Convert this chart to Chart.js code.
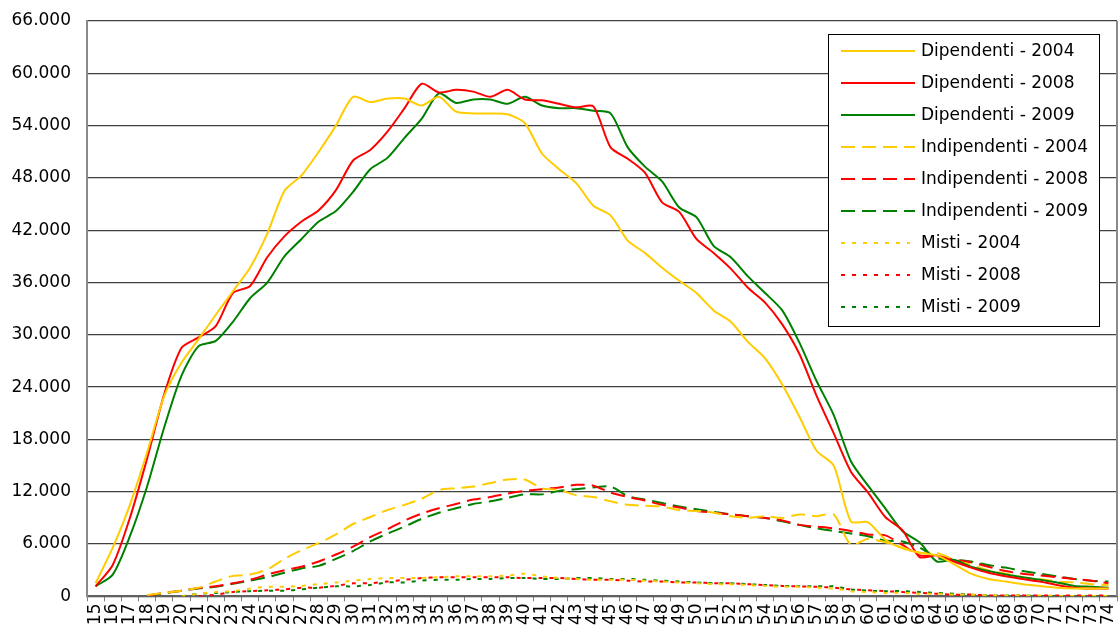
<!DOCTYPE html>
<html>
<head>
    <title>Dipendenti, Indipendenti e Misti per età</title>
    <script src="https://cdn.jsdelivr.net/npm/chart.js"></script>
    <style>
        body { margin: 0; background: #fff; }
        #wrap { width: 1120px; height: 630px; }
    </style>
</head>
<body>
    <div id="wrap"><canvas id="myChart" width="1120" height="630"></canvas></div>

    <script>
        // Età (asse x)
        var ages = ['15','16','17','18','19','20','21','22','23','24',
                    '25','26','27','28','29','30','31','32','33','34',
                    '35','36','37','38','39','40','41','42','43','44',
                    '45','46','47','48','49','50','51','52','53','54',
                    '55','56','57','58','59','60','61','62','63','64',
                    '65','66','67','68','69','70','71','72','73','74'];

        var dipendenti2004 = [1500,5600,10500,16500,23000,26800,29500,32300,35000,37700,
            41600,46500,48300,51000,54000,57300,56700,57100,57100,56300,
            57300,55600,55400,55400,55300,54300,50800,49000,47400,44800,
            43700,40800,39400,37700,36200,34800,32800,31500,29200,27300,
            24300,20600,16700,15000,8600,8500,6500,5500,5000,4700,
            3700,2600,2000,1700,1400,1200,1000,900,900,900];
        var dipendenti2008 = [1150,3600,9000,15800,23200,28500,29700,31000,34800,35600,
            38900,41300,43000,44300,46600,50000,51200,53300,56000,58800,
            57800,58100,57900,57300,58100,57000,56900,56500,56100,56200,
            51500,50200,48600,45200,44100,41000,39400,37600,35400,33700,
            31200,27800,23000,18700,14300,11900,9100,7600,4500,4700,
            4000,3300,2700,2300,2000,1700,1300,1000,900,900];
        var dipendenti2009 = [1150,2500,6900,12600,19400,25300,28700,29300,31500,34200,
            36000,39000,41000,43000,44200,46400,49000,50300,52600,54800,
            57700,56600,57000,57000,56500,57300,56300,56000,56000,55700,
            55400,51500,49300,47600,44600,43500,40200,38900,36700,34800,
            32800,29100,24700,20800,15500,12700,10100,7500,6200,4000,
            4200,3400,2900,2500,2200,1900,1600,1200,1100,1000];

        var indipendenti2004 = [null,null,null,150,400,650,1000,1700,2350,2500,
            3100,4300,5300,6100,7100,8300,9100,9900,10500,11200,
            12200,12400,12600,13000,13400,13400,12400,12200,11600,11400,
            10900,10500,10400,10300,9900,9800,9600,9200,9000,9200,
            9000,9400,9200,9400,5900,6600,6200,5600,5000,5000,
            4200,3600,3000,2600,2200,2000,1700,1600,1400,1300];
        var indipendenti2008 = [null,null,null,100,400,650,950,1150,1500,1900,
            2500,3000,3400,4000,4800,5700,6800,7700,8700,9500,
            10100,10600,11100,11400,11800,12100,12300,12500,12800,12700,
            11900,11400,11000,10500,10200,9800,9600,9400,9200,9000,
            8700,8200,8000,7800,7500,7100,7000,5900,4700,4600,
            4200,3900,3400,2900,2600,2400,2200,2000,1800,1500];
        var indipendenti2009 = [null,null,null,100,350,650,900,1100,1450,1800,
            2200,2700,3200,3500,4300,5200,6300,7200,8000,8900,
            9600,10100,10600,10900,11300,11700,11700,12100,12300,12500,
            12600,11500,11100,10700,10300,10000,9700,9400,9200,9000,
            8600,8200,7800,7500,7200,6900,6400,6300,5600,4400,
            4200,4000,3600,3300,2900,2600,2300,2000,1800,1700];

        var misti2004 = [null,null,null,null,null,0,300,500,600,900,
            1100,1100,1200,1400,1600,1800,2000,2100,2100,2100,
            2200,2300,2300,2300,2400,2600,2300,2100,2000,1900,
            1900,1900,1800,1700,1600,1500,1400,1400,1300,1200,
            1100,1100,1000,900,600,500,400,400,300,300,
            200,200,100,100,100,100,50,50,50,50];
        var misti2008 = [null,null,null,null,null,null,0,200,500,600,
            700,800,1000,1000,1200,1500,1500,1700,1900,2100,
            2200,2200,2200,2200,2200,2100,2100,2100,2000,1900,
            1900,1800,1700,1700,1600,1600,1500,1500,1400,1300,
            1200,1150,1100,1000,800,700,600,500,400,300,
            200,200,100,100,100,100,100,100,100,100];
        var misti2009 = [null,null,null,null,null,0,300,400,500,600,
            650,650,800,1000,1150,1150,1300,1600,1600,1800,
            1900,1900,2000,2000,2100,2100,2000,2000,2100,2100,
            2000,2000,1900,1800,1700,1600,1500,1500,1400,1300,
            1200,1150,1150,1150,800,650,600,600,500,400,
            300,200,100,100,100,50,50,50,50,50];

        var yTicksMax = 66000;
        var yTicksStep = 6000;

        var YELLOW = '#FFCC00', RED = '#FF0000', GREEN = '#008000';
        var DASHED = [14, 7], DOTTED = [4, 7];
        var FONT = 'DejaVu Sans';

        function serie(label, data, color, dash) {
            return {
                label: label,
                data: data,
                borderColor: color,
                backgroundColor: color,
                borderWidth: 2,
                borderDash: dash,
                pointRadius: 0,
                tension: 0.25,
                fill: false
            };
        }

        function fmt(v) {
            // 66000 -> "66.000"
            var s = String(Math.round(v));
            return s.replace(/\B(?=(\d{3})+(?!\d))/g, '.');
        }

        // legenda disegnata dentro l'area del grafico, con bordo
        var boxLegend = {
            id: 'boxLegend',
            afterDraw: function(chart) {
                var ctx = chart.ctx;
                var left = 828, top = 34, w = 271, h = 292;
                ctx.save();
                ctx.fillStyle = '#fff';
                ctx.fillRect(left, top, w, h);
                ctx.strokeStyle = '#000';
                ctx.lineWidth = 1;
                ctx.strokeRect(left + 0.5, top + 0.5, w, h);
                ctx.font = '17px "' + FONT + '"';
                ctx.textBaseline = 'middle';
                chart.data.datasets.forEach(function(ds, i) {
                    var y = 51 + i * 32;
                    ctx.beginPath();
                    ctx.setLineDash(ds.borderDash || []);
                    ctx.strokeStyle = ds.borderColor;
                    ctx.lineWidth = 2;
                    ctx.moveTo(841, y);
                    ctx.lineTo(ds.borderDash && ds.borderDash[0] < 6 ? 910 : 915, y);
                    ctx.stroke();
                    ctx.setLineDash([]);
                    ctx.fillStyle = '#000';
                    ctx.fillText(ds.label, 921, y + 1);
                });
                // bordo destro dell'area del grafico
                var a = chart.chartArea;
                ctx.strokeStyle = '#8a8a8a';
                ctx.lineWidth = 2;
                ctx.beginPath();
                ctx.moveTo(a.right, a.top);
                ctx.lineTo(a.right, a.bottom);
                ctx.stroke();
                ctx.restore();
            }
        };

        var ctx = document.getElementById('myChart').getContext('2d');
        var chart = new Chart(ctx, {
            type: 'line',
            data: {
                labels: ages,
                datasets: [
                    serie('Dipendenti - 2004', dipendenti2004, YELLOW, []),
                    serie('Dipendenti - 2008', dipendenti2008, RED, []),
                    serie('Dipendenti - 2009', dipendenti2009, GREEN, []),
                    serie('Indipendenti - 2004', indipendenti2004, YELLOW, DASHED),
                    serie('Indipendenti - 2008', indipendenti2008, RED, DASHED),
                    serie('Indipendenti - 2009', indipendenti2009, GREEN, DASHED),
                    serie('Misti - 2004', misti2004, YELLOW, DOTTED),
                    serie('Misti - 2008', misti2008, RED, DOTTED),
                    serie('Misti - 2009', misti2009, GREEN, DOTTED)
                ]
            },
            options: {
                responsive: false,
                animation: false,
                layout: { padding: { left: 0, top: 21, right: 3, bottom: 3 } },
                plugins: {
                    legend: { display: false },
                    tooltip: { enabled: false }
                },
                scales: {
                    x: {
                        offset: true,
                        afterFit: function(s) { s.paddingLeft = 0; s.paddingRight = 0; },
                        grid: {
                            offset: true,
                            drawOnChartArea: false,
                            drawTicks: true,
                            tickLength: 5,
                            color: '#808080'
                        },
                        border: { color: '#606060', width: 2 },
                        ticks: {
                            autoSkip: false,
                            maxRotation: 90,
                            minRotation: 90,
                            padding: 2,
                            color: '#000',
                            font: { family: FONT, size: 17 }
                        }
                    },
                    y: {
                        min: 0,
                        max: yTicksMax,
                        afterFit: function(s) {
                            s.width = 87;
                            s.paddingTop = 0;
                            s.paddingBottom = 0;
                        },
                        grid: {
                            drawTicks: false,
                            color: '#404040',
                            lineWidth: 1.3
                        },
                        border: { color: '#8a8a8a', width: 2 },
                        ticks: {
                            stepSize: yTicksStep,
                            padding: 16,
                            color: '#000',
                            font: { family: FONT, size: 17 },
                            callback: function(v) { return fmt(v); }
                        }
                    }
                }
            },
            plugins: [boxLegend]
        });
    </script>
</body>
</html>
